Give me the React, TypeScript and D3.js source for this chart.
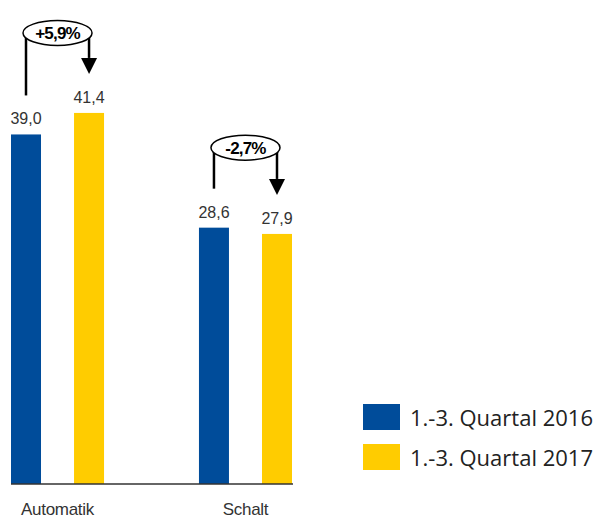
import React from "react";
import * as d3 from "d3";

const categories = ["Automatik", "Schalt"];
const seriesNames = ["1.-3. Quartal 2016", "1.-3. Quartal 2017"];
const values2016 = [39.0, 28.6];
const values2017 = [41.4, 27.9];
const changeLabels = ["+5,9%", "-2,7%"];
const colors = ["#004C9A", "#FFCC00"];

const W = 601;
const H = 518;

export default function App() {
  const x0 = d3.scaleBand<string>().domain(categories).range([11, 292]).paddingInner(0.505).paddingOuter(0);
  const x1 = d3.scaleBand<string>().domain(seriesNames).range([0, x0.bandwidth()]).paddingInner(0.524).paddingOuter(0);
  const y = d3.scaleLinear().domain([0, 54]).range([484, 0]);
  const fmt = (v: number) => d3.format(".1f")(v).replace(".", ",");
  const series = [values2016, values2017];

  return (
    <svg width={W} height={H} style={{ position: "absolute", left: 0, top: 0 }}>
      {categories.map((c, ci) => (
        <g key={c}>
          {series.map((vals, si) => {
            const bx = (x0(c) ?? 0) + (x1(seriesNames[si]) ?? 0);
            const bw = x1.bandwidth();
            return (
              <g key={si}>
                <rect x={bx} y={y(vals[ci])} width={bw} height={y(0) - y(vals[ci])} fill={colors[si]} />
                <text x={bx + bw / 2} y={y(vals[ci]) - 10} textAnchor="middle" fontFamily="Liberation Sans, Arial, sans-serif" fontSize={16} fill="#333">
                  {fmt(vals[ci])}
                </text>
              </g>
            );
          })}
          {(() => {
            const cA = (x0(c) ?? 0) + (x1(seriesNames[0]) ?? 0) + x1.bandwidth() / 2;
            const cB = (x0(c) ?? 0) + (x1(seriesNames[1]) ?? 0) + x1.bandwidth() / 2;
            const topA = y(values2016[ci]);
            const topB = y(values2017[ci]);
            const cy = Math.min(topA, topB) - 80;
            const cx = (cA + cB) / 2;
            const rx = (cB - cA) / 2 + 3;
            return (
              <g>
                <line x1={cA} y1={topA - 39} x2={cA} y2={cy} stroke="#000" strokeWidth={2.5} />
                <line x1={cB} y1={cy} x2={cB} y2={topB - 55} stroke="#000" strokeWidth={2.5} />
                <path d={`M${cB - 8},${topB - 55} L${cB + 8},${topB - 55} L${cB},${topB - 39} Z`} fill="#000" />
                <ellipse cx={cx} cy={cy} rx={rx} ry={12.5} fill="#fff" stroke="#000" strokeWidth={1.5} />
                <text x={cx} y={cy + 6} textAnchor="middle" fontFamily="Liberation Sans, Arial, sans-serif" fontSize={17} fontWeight="bold" fill="#000" letterSpacing={-0.8}>
                  {changeLabels[ci]}
                </text>
              </g>
            );
          })()}
          <text x={(x0(c) ?? 0) + x0.bandwidth() / 2} y={515} textAnchor="middle" fontFamily="Liberation Sans, Arial, sans-serif" fontSize={17} fill="#333" letterSpacing={-0.3}>
            {c}
          </text>
        </g>
      ))}
      <line x1={11} x2={293} y1={y(0)} y2={y(0)} stroke="#333" strokeWidth={1.5} />
      {seriesNames.map((s, i) => (
        <g key={s} transform={`translate(363, ${404 + i * 40})`}>
          <rect x={0} y={0} width={37} height={26} fill={colors[i]} />
          <text x={47} y={22} fontFamily="Open Sans, sans-serif" fontSize={22} fill="#222">
            {s}
          </text>
        </g>
      ))}
    </svg>
  );
}
